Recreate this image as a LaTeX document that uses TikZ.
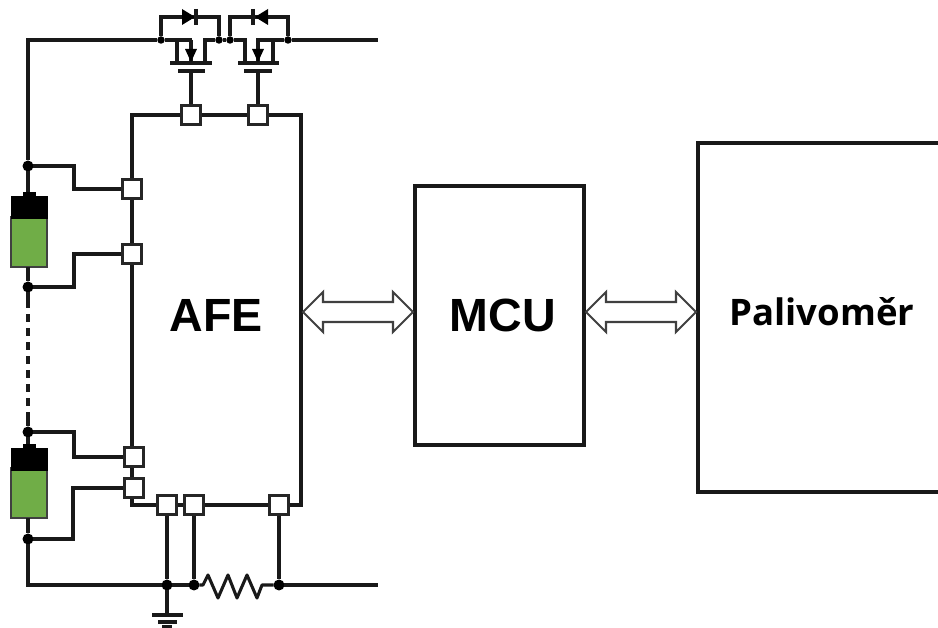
\documentclass[tikz,border=0pt]{standalone}
\usepackage{fontspec}
\setmainfont{Liberation Sans}
\newfontfamily\palfont{Open Sans}
\definecolor{cellgreen}{HTML}{70AD47}
\tikzset{
  wire/.style={line width=1.75pt, draw=black!90},
  box/.style={draw=black!90, line width=1.9pt, fill=white},
  pin/.style={draw=black!85, line width=1.3pt, fill=white, minimum size=0.38cm, inner sep=0pt},
  dot/.style={circle, fill=black, minimum size=0.22cm, inner sep=0pt, outer sep=0pt},
  smalldot/.style={circle, fill=black, minimum size=0.15cm, inner sep=0pt, outer sep=0pt},
  bigtext/.style={font=\bfseries\fontsize{26.5}{30}\selectfont},
  bus/.style={draw=black!75, line width=1.2pt, fill=white, line join=miter},
  cellcap/.style={fill=black, draw=black},
  cellbody/.style={fill=cellgreen, draw=black!75, line width=1pt}
}
\begin{document}
\begin{tikzpicture}[x=0.02cm, y=-0.02cm]
  \useasboundingbox (0,0) rectangle (938,628);

  % Blocks
  \node[box, minimum width=3.38cm, minimum height=7.8cm] (afe) at (216.5,310) {};
  \node[box, minimum width=3.38cm, minimum height=5.18cm] (mcu) at (499.5,315.5) {};
  \node[box, minimum width=5cm, minimum height=6.98cm] (pal) at (823,317.5) {};
  \node[bigtext] (afelabel) at (216,315) {AFE};
  \node[bigtext] (mculabel) at (503,315) {MCU};
  \node[font=\palfont\bfseries\fontsize{20.8}{24}\selectfont] (pallabel) at (822,312) {Palivoměr};

  % Batteries
  \draw[cellcap] (23,192) rectangle (35,197);
  \draw[cellbody] (11,217) rectangle (47,267);
  \draw[cellcap] (11,196) rectangle (47,218);
  \draw[cellcap] (23,444) rectangle (35,449);
  \draw[cellbody] (11,468) rectangle (47,518);
  \draw[cellcap] (11,448) rectangle (47,470);

  % Junctions
  \node[dot] (j1) at (28,166) {};
  \node[dot] (j2) at (28,287) {};
  \node[dot] (j3) at (28,432) {};
  \node[dot] (j4) at (28,539) {};
  \node[dot] (j5) at (167,585) {};
  \node[dot] (j6) at (194,585) {};
  \node[dot] (j7) at (279,585) {};
  \node[smalldot] (t1) at (161,40) {};
  \node[smalldot] (t2) at (219,40) {};
  \node[smalldot] (t3) at (230,40) {};
  \node[smalldot] (t4) at (288,40) {};

  % Pins
  \node[pin] (g1) at (191,115) {};
  \node[pin] (g2) at (258,115) {};
  \node[pin] (p1) at (132,189) {};
  \node[pin] (p2) at (132,254) {};
  \node[pin] (p3) at (134,457) {};
  \node[pin] (p4) at (134,488) {};
  \node[pin] (p5) at (167,505) {};
  \node[pin] (p6) at (194,505) {};
  \node[pin] (p7) at (279,505) {};

  % Ends of the lines
  \coordinate (topend) at (378,40);
  \coordinate (botend) at (378,585);
  \coordinate (earth) at (167,615);

  % Wires
  \draw[wire] (j1) |- (t1);
  \draw[wire] (j1) -- (28,192);
  \draw[wire] (28,267) -- (j2);
  \draw[wire] (j2) -- (28,300);
  \draw[wire, dash pattern=on 4.5pt off 3.5pt] (28,300) -- (28,420);
  \draw[wire] (28,420) -- (j3);
  \draw[wire] (j3) -- (28,444);
  \draw[wire] (28,518) -- (j4);
  \draw[wire] (j4) |- (j5);
  \draw[wire] (j5) -- (j6);
  \draw[wire] (j7) -- (botend);
  \draw[wire] (t4) -- (topend);
  \draw[wire] (t2) -- (t3);
  \draw[wire] (j1) -| (74,189) -- (p1);
  \draw[wire] (j2) -| (74,254) -- (p2);
  \draw[wire] (j3) -| (74,457) -- (p3);
  \draw[wire] (j4) -| (73,488) -- (p4);
  \draw[wire] (p5) -- (j5);
  \draw[wire] (p6) -- (j6);
  \draw[wire] (p7) -- (j7);
  \draw[wire] (j5) -- (earth);
  \draw[wire, line join=round] (j6) -- (203,585) -- (208,575) -- (218,598) -- (228,575) -- (237,598) -- (247,575) -- (257,598) -- (262,585) -- (j7);

  % Ground
  \draw[wire] (152,615) -- (183,615);
  \draw[wire] (158,622) -- (177,622);
  \draw[wire] (162,627) -- (172,627);

  % MOSFETs
  \draw[wire] (t1) -- (192,40);
  \draw[wire] (177,40) -- (177,63);
  \draw[wire] (t2) -- (205,40) -- (205,63);
  \draw[wire] (191,40) -- (191,63);
  \draw[wire] (170,63) -- (212,63);
  \draw[wire] (178,71) -- (205,71);
  \draw[wire] (191,71) -- (g1);
  \fill (185,49) -- (197,49) -- (191,62) -- cycle;
  \draw[wire] (t3) -- (245,40) -- (245,63);
  \draw[wire] (t4) -- (258,40) -- (258,63);
  \draw[wire] (273,40) -- (273,63);
  \draw[wire] (238,63) -- (279,63);
  \draw[wire] (244,71) -- (272,71);
  \draw[wire] (258,71) -- (g2);
  \fill (252,49) -- (264,49) -- (258,62) -- cycle;

  % Diodes
  \draw[wire] (t1) |- (t2 |- 0,17) -- (t2);
  \draw[wire] (t3) |- (t4 |- 0,17) -- (t4);
  \fill (182,9) -- (195,17) -- (182,25) -- cycle;
  \draw[wire] (196,9) -- (196,25);
  \fill (268,9) -- (255,17) -- (268,25) -- cycle;
  \draw[wire] (253,9) -- (253,25);

  % Arrows
  \coordinate (afeport) at (303,312);
  \coordinate (mcuin) at (413,312);
  \coordinate (mcuout) at (586,312);
  \coordinate (palport) at (696,312);
  \draw[bus] (afeport) -- ++(20,-20) -- ++(0,10) -- ++(70,0) -- ++(0,-10) -- (mcuin) -- ++(-20,20) -- ++(0,-10) -- ++(-70,0) -- ++(0,10) -- cycle;
  \draw[bus] (mcuout) -- ++(20,-20) -- ++(0,10) -- ++(70,0) -- ++(0,-10) -- (palport) -- ++(-20,20) -- ++(0,-10) -- ++(-70,0) -- ++(0,10) -- cycle;
\end{tikzpicture}
\end{document}
